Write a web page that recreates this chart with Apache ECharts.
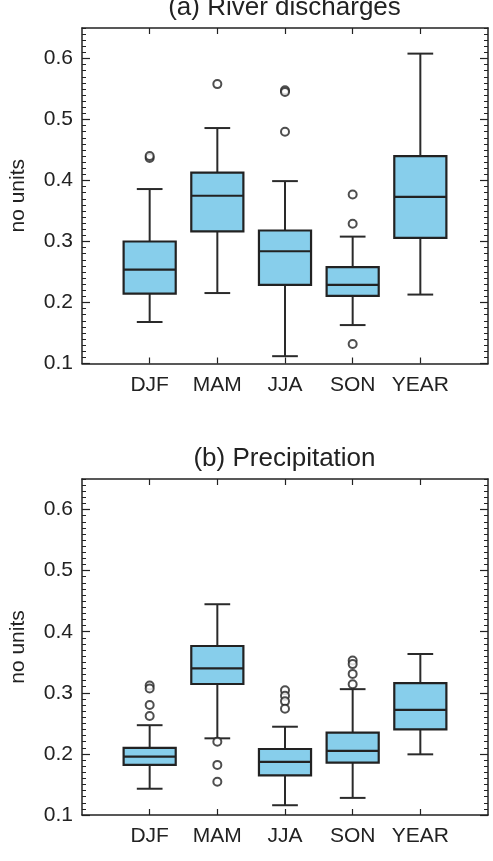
<!DOCTYPE html>
<html>
<head>
<meta charset="utf-8">
<script src="https://cdn.jsdelivr.net/npm/echarts@6/dist/echarts.min.js"></script>
<style>
html, body { margin: 0; padding: 0; background: #fff; }
#chart_panel { width: 493px; height: 861px; }
</style>
</head>
<body>
<div id="chart_panel"></div>
<script>
var seasons = ['DJF', 'MAM', 'JJA', 'SON', 'YEAR'];
var yTicks = [0.1, 0.2, 0.3, 0.4, 0.5, 0.6];

// [lower whisker, Q1, median, Q3, upper whisker]
var riverBox = [
	[0.168, 0.2145, 0.254, 0.300, 0.386],
	[0.2155, 0.3167, 0.375, 0.413, 0.486],
	[0.112, 0.229, 0.284, 0.318, 0.399],
	[0.163, 0.211, 0.229, 0.258, 0.308],
	[0.213, 0.306, 0.373, 0.440, 0.608]
];
// [season index (1..5), value]
var riverOutliers = [
	[1, 0.437], [1, 0.440],
	[2, 0.558],
	[3, 0.548], [3, 0.545], [3, 0.480],
	[4, 0.377], [4, 0.329], [4, 0.132]
];

var precipBox = [
	[0.143, 0.182, 0.1955, 0.210, 0.247],
	[0.2255, 0.3144, 0.340, 0.3766, 0.445],
	[0.116, 0.165, 0.187, 0.208, 0.2445],
	[0.128, 0.1856, 0.205, 0.2347, 0.306],
	[0.1993, 0.240, 0.272, 0.316, 0.3635]
];
var precipOutliers = [
	[1, 0.312], [1, 0.307], [1, 0.280], [1, 0.262],
	[2, 0.220], [2, 0.182], [2, 0.1545],
	[3, 0.304], [3, 0.295], [3, 0.286], [3, 0.274],
	[4, 0.353], [4, 0.347], [4, 0.331], [4, 0.314]
];

var FONT = 'Liberation Sans, Arial, Helvetica, sans-serif';
var INK = '#222';
var BOX_FILL = '#87CEEB';

var myChart = echarts.init(document.getElementById('chart_panel'));

function boxData(arr){
	var out = [];
	for(var i=0; i<arr.length; i++){
		out.push([i+1].concat(arr[i]));
	}
	return out;
}

function renderBox(params, api){
	var x = api.value(0);
	var unit = api.size([1, 0])[0];
	var bw = unit * 0.77, cw = unit * 0.38;
	var lo = api.coord([x, api.value(1)]);
	var q1 = api.coord([x, api.value(2)]);
	var md = api.coord([x, api.value(3)]);
	var q3 = api.coord([x, api.value(4)]);
	var hi = api.coord([x, api.value(5)]);
	var cx = lo[0];
	var ls = {stroke: '#2a2a2a', lineWidth: 2, fill: null};
	return {
		type: 'group',
		children: [
			{type: 'line', shape: {x1: cx, y1: lo[1], x2: cx, y2: q1[1]}, style: ls},
			{type: 'line', shape: {x1: cx, y1: q3[1], x2: cx, y2: hi[1]}, style: ls},
			{type: 'line', shape: {x1: cx - cw/2, y1: lo[1], x2: cx + cw/2, y2: lo[1]}, style: ls},
			{type: 'line', shape: {x1: cx - cw/2, y1: hi[1], x2: cx + cw/2, y2: hi[1]}, style: ls},
			{type: 'rect', shape: {x: cx - bw/2, y: q3[1], width: bw, height: q1[1] - q3[1]},
				style: {fill: BOX_FILL, stroke: INK, lineWidth: 2.2}},
			{type: 'line', shape: {x1: cx - bw/2, y1: md[1], x2: cx + bw/2, y2: md[1]}, style: {stroke: INK, lineWidth: 2.2}}
		]
	};
}

function xAxes(gi){
	return [
		{
			gridIndex: gi, type: 'value', min: 0, max: 6, interval: 1, position: 'bottom',
			axisLine: {show: true, onZero: false, lineStyle: {color: INK, width: 1.5}},
			axisTick: {show: true, inside: true, length: 6, customValues: [1,2,3,4,5], lineStyle: {color: INK, width: 1.2}},
			axisLabel: {show: true, customValues: [1,2,3,4,5], margin: 11, color: INK, fontSize: 21, fontFamily: FONT,
				formatter: function(v){ return seasons[v-1] || ''; }},
			splitLine: {show: false}
		},
		{
			gridIndex: gi, type: 'value', min: 0, max: 6, interval: 1, position: 'top',
			axisLine: {show: true, onZero: false, lineStyle: {color: INK, width: 1.5}},
			axisTick: {show: true, inside: true, length: 6, customValues: [1,2,3,4,5], lineStyle: {color: INK, width: 1.2}},
			axisLabel: {show: false},
			splitLine: {show: false}
		}
	];
}

function yAxes(gi){
	var common = {
		gridIndex: gi, type: 'value', min: 0.1, max: 0.65, interval: 0.1,
		axisLine: {show: true, onZero: false, lineStyle: {color: INK, width: 1.5}},
		axisTick: {show: true, inside: true, length: 8, customValues: yTicks, lineStyle: {color: INK, width: 1.2}},
		minorTick: {show: true, splitNumber: 10, length: 4, lineStyle: {color: INK, width: 1}},
		splitLine: {show: false},
		minorSplitLine: {show: false}
	};
	var left = Object.assign({}, common, {
		position: 'left',
		name: 'no units', nameLocation: 'middle', nameRotate: 90, nameGap: 53,
		nameTextStyle: {color: INK, fontSize: 21, fontFamily: FONT},
		axisLabel: {show: true, customValues: yTicks, margin: 9, color: INK, fontSize: 21, fontFamily: FONT,
			formatter: function(v){ return v.toFixed(1); }}
	});
	var right = Object.assign({}, common, {position: 'right', axisLabel: {show: false}});
	return [left, right];
}

var grids = [
	{left: 81, right: 5, top: 28, height: 335.5},
	{left: 81, right: 5, top: 479, height: 336}
];

var option = {
	animation: false,
	backgroundColor: '#fff',
	title: [
		{text: '(a) River discharges', left: 284.5, top: -5, textAlign: 'center', padding: 0,
			textStyle: {fontSize: 26, fontWeight: 'normal', color: INK, fontFamily: FONT}},
		{text: '(b) Precipitation', left: 284.5, top: 446, textAlign: 'center', padding: 0,
			textStyle: {fontSize: 26, fontWeight: 'normal', color: INK, fontFamily: FONT}}
	],
	grid: grids,
	xAxis: xAxes(0).concat(xAxes(1)),
	yAxis: yAxes(0).concat(yAxes(1)),
	series: [
		{type: 'custom', xAxisIndex: 0, yAxisIndex: 0, renderItem: renderBox, data: boxData(riverBox)},
		{type: 'scatter', xAxisIndex: 0, yAxisIndex: 0, data: riverOutliers, symbol: 'emptyCircle', symbolSize: 8,
			itemStyle: {color: INK, borderColor: INK, borderWidth: 1.5}},
		{type: 'custom', xAxisIndex: 2, yAxisIndex: 2, renderItem: renderBox, data: boxData(precipBox)},
		{type: 'scatter', xAxisIndex: 2, yAxisIndex: 2, data: precipOutliers, symbol: 'emptyCircle', symbolSize: 8,
			itemStyle: {color: INK, borderColor: INK, borderWidth: 1.5}}
	]
};

myChart.setOption(option);
window.onresize = myChart.resize;
</script>
</body>
</html>
